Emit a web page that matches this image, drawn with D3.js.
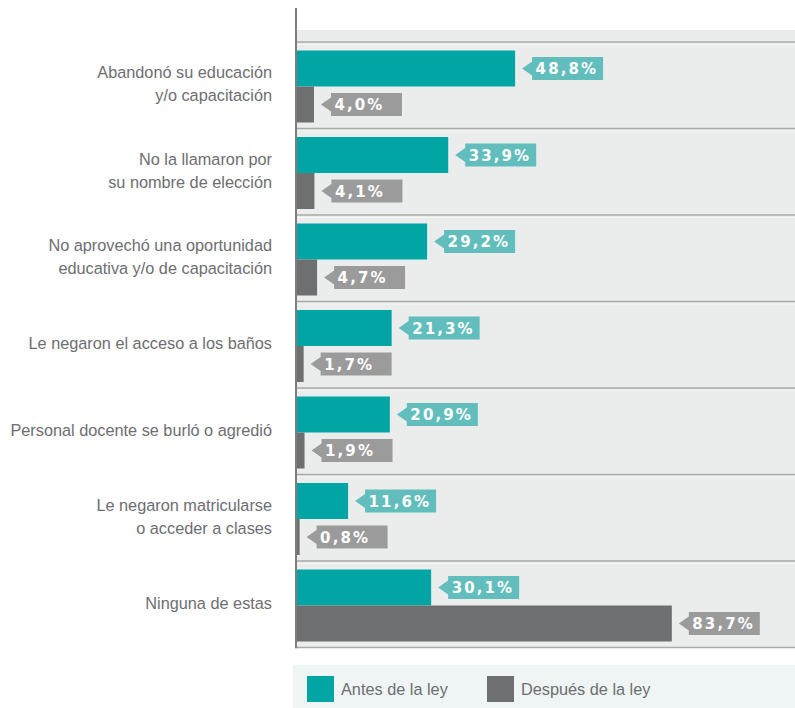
<!DOCTYPE html>
<html><head><meta charset="utf-8">
<script src="https://cdn.jsdelivr.net/npm/d3@7/dist/d3.min.js"></script>
<style>body{margin:0;background:#fff}svg{display:block}</style>
</head><body>
<svg id="c" width="795" height="708"></svg>
<script>
const categories = [
  "Abandonó su educación\ny/o capacitación",
  "No la llamaron por\nsu nombre de elección",
  "No aprovechó una oportunidad\neducativa y/o de capacitación",
  "Le negaron el acceso a los baños",
  "Personal docente se burló o agredió",
  "Le negaron matricularse\no acceder a clases",
  "Ninguna de estas"
];
const seriesNames = ["Antes de la ley", "Después de la ley"];
const antes = [48.8, 33.9, 29.2, 21.3, 20.9, 11.6, 30.1];
const despues = [4.0, 4.1, 4.7, 1.7, 1.9, 0.8, 83.7];

const colors = {bar: ["#00a5a4", "#6e6f71"], badge: ["#62bebd", "#9b9b9c"]};
const svg = d3.select("#c");
const x0 = 296;
const x = d3.scaleLinear().domain([0, 100]).range([x0, x0 + 449]);
const y0 = d3.scaleBand().domain(d3.range(categories.length)).range([42, 647.5]).padding(0);
const y1 = d3.scaleBand().domain([0, 1]).range([8.5, 80.5]).padding(0);
const fmt = v => d3.format(".1f")(v).replace(".", ",") + "%";

// plot background
svg.append("rect").attr("x", x0).attr("y", 30).attr("width", 795 - x0).attr("height", 647.5 - 30).attr("fill", "#ebecec");

// separators
const seps = categories.map((c, i) => y0(i)).concat([y0.range()[1]]);
svg.selectAll("line.sep").data(seps).join("line").attr("class", "sep")
  .attr("x1", x0).attr("x2", 795).attr("y1", d => d).attr("y2", d => d)
  .attr("stroke", "#a9aaab").attr("stroke-width", 1.6);
svg.selectAll("line.sepw").data(seps.slice(0, -1)).join("line").attr("class", "sepw")
  .attr("x1", x0).attr("x2", 795).attr("y1", d => d + 2.5).attr("y2", d => d + 2.5)
  .attr("stroke", "#f6f6f6").attr("stroke-width", 1);

const data = [];
categories.forEach((c, i) => {
  [antes[i], despues[i]].forEach((v, s) => data.push({i, s, v}));
});

const g = svg.append("g");
g.selectAll("rect.bar").data(data).join("rect").attr("class", "bar")
  .attr("x", x0).attr("y", d => y0(d.i) + y1(d.s))
  .attr("width", d => x(d.v) - x0).attr("height", y1.bandwidth())
  .attr("fill", d => colors.bar[d.s]);

// badges
const bw = 71, bh = 23, gap = 7, aw = 10, ah = 7;
const badge = g.selectAll("g.badge").data(data).join("g").attr("class", "badge")
  .attr("transform", d => `translate(${x(d.v) + gap},${y0(d.i) + y1(d.s) + y1.bandwidth() / 2})`);
badge.append("path")
  .attr("d", `M0,0 L${aw},${-ah} L${aw},${-bh / 2} L${aw + bw},${-bh / 2} L${aw + bw},${bh / 2} L${aw},${bh / 2} L${aw},${ah} Z`)
  .attr("fill", d => colors.badge[d.s]);
badge.append("text").attr("x", aw + 3.5).attr("y", 5.5)
  .attr("font-family", "DejaVu Sans").attr("font-weight", "bold").attr("font-size", 15)
  .attr("letter-spacing", 2.1).attr("fill", "#fff").text(d => fmt(d.v));

// axis line
svg.append("line").attr("x1", x0).attr("x2", x0).attr("y1", 8).attr("y2", 648.3)
  .attr("stroke", "#7d7e80").attr("stroke-width", 2);

// category labels
const lab = svg.selectAll("text.cat").data(categories).join("text").attr("class", "cat")
  .attr("text-anchor", "end").attr("font-family", "Liberation Sans").attr("font-size", 16.3)
  .attr("fill", "#6d6e71");
lab.each(function(d, i) {
  const lines = d.split("\n");
  const cy = y0(i) + y0.bandwidth() / 2 - 1;
  const lh = 23;
  lines.forEach((t, k) => {
    d3.select(this).append("tspan").attr("x", 272)
      .attr("y", cy + (k - (lines.length - 1) / 2) * lh + 5.5).text(t);
  });
});

// legend
svg.append("rect").attr("x", 293).attr("y", 665).attr("width", 795 - 293).attr("height", 43).attr("fill", "#eef5f4");
const lx = [307, 487];
const leg = svg.selectAll("g.leg").data(seriesNames).join("g").attr("class", "leg")
  .attr("transform", (d, i) => `translate(${lx[i]},676)`);
leg.append("rect").attr("width", 27).attr("height", 26).attr("fill", (d, i) => colors.bar[i]);
leg.append("text").attr("x", 34).attr("y", 19).attr("font-family", "Liberation Sans").attr("font-size", 16.3)
  .attr("fill", "#6d6e71").text(d => d);
</script>
</body></html>
